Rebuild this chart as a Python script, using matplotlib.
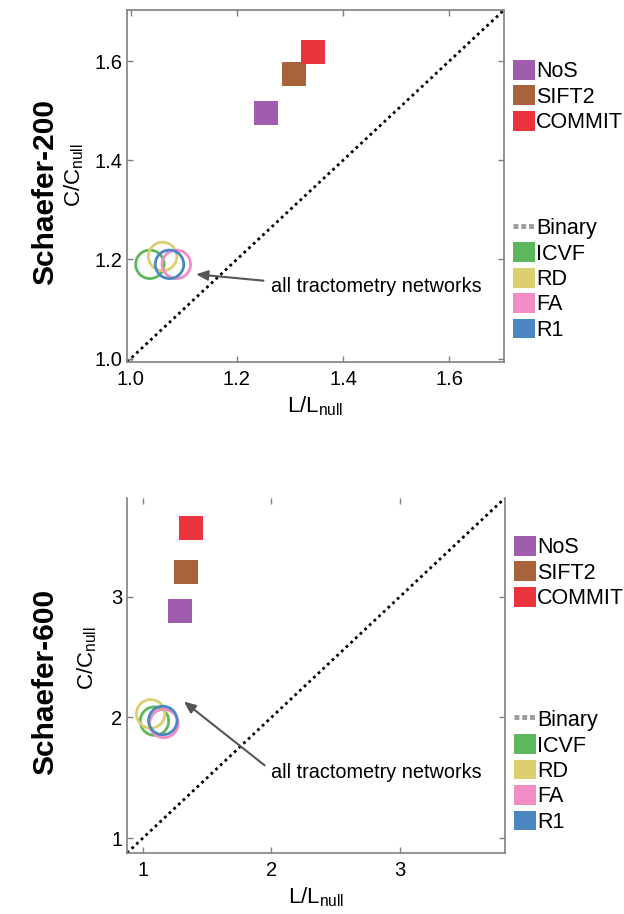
import matplotlib
matplotlib.use("Agg")
import matplotlib.pyplot as plt
from matplotlib.patches import Patch
from matplotlib.lines import Line2D

plt.rcParams['font.family'] = ['Liberation Sans', 'DejaVu Sans']
plt.rcParams['mathtext.default'] = 'regular'

# ---- data ----
square_names = ["NoS", "SIFT2", "COMMIT"]
square_colors = ["#A15DAD", "#A9633A", "#E8343A"]
circle_names = ["ICVF", "RD", "FA", "R1"]
circle_colors = ["#5DB75C", "#DCCF70", "#F38BC5", "#4A87C1"]

# Schaefer-200
s200_sq_x = [1.254, 1.308, 1.344]
s200_sq_y = [1.496, 1.574, 1.618]
s200_ci_x = [1.036, 1.060, 1.086, 1.073]
s200_ci_y = [1.190, 1.206, 1.190, 1.190]
s200_lim = (0.993, 1.703)
s200_ticks = [1.0, 1.2, 1.4, 1.6]
s200_ticklabels = ["1.0", "1.2", "1.4", "1.6"]

# Schaefer-600
s600_sq_x = [1.29, 1.334, 1.373]
s600_sq_y = [2.88, 3.21, 3.57]
s600_ci_x = [1.09, 1.06, 1.163, 1.155]
s600_ci_y = [1.97, 2.03, 1.95, 1.975]
s600_lim = (0.876, 3.82)
s600_ticks = [1, 2, 3]
s600_ticklabels = ["1", "2", "3"]

row_titles = ["Schaefer-200", "Schaefer-600"]
annot_text = "all tractometry networks"
# arrow (head, tail) and text position per panel
s200_arrow = ((1.123, 1.170), (1.250, 1.157), (1.264, 1.145))
s600_arrow = ((1.319, 2.132), (1.948, 1.603), (2.0, 1.545))

spine_col = "#808080"

fig = plt.figure(figsize=(6.24, 9.14), dpi=100)
ax1 = fig.add_axes([127/624, 1-362/914, 377/624, 352/914])
ax2 = fig.add_axes([127/624, 1-853/914, 378/624, 355/914])

panels = [
    (ax1, s200_sq_x, s200_sq_y, s200_ci_x, s200_ci_y, s200_lim, s200_ticks, s200_ticklabels, s200_arrow, True, (0.858, 0.412), (-0.11, 0.53)),
    (ax2, s600_sq_x, s600_sq_y, s600_ci_x, s600_ci_y, s600_lim, s600_ticks, s600_ticklabels, s600_arrow, False, (0.893, 0.406), (-0.075, 0.55)),
]

for ax, sqx, sqy, cix, ciy, lim, ticks, tls, arr, topspine, legy, ylab in panels:
    ax.plot(lim, lim, linestyle=(0, (1, 1.3)), color="black", lw=2.0, zorder=1)
    for x, y, c in zip(cix, ciy, circle_colors):
        ax.scatter([x], [y], s=420, marker="o", facecolors="none", edgecolors=c, linewidths=2.0, zorder=3)
    for x, y, c in zip(sqx, sqy, square_colors):
        ax.scatter([x], [y], s=300, marker="s", color=c, linewidths=0, zorder=3)
    head, tail, tpos = arr
    ax.annotate("", xy=head, xytext=tail,
                arrowprops=dict(arrowstyle="-|>,head_length=0.7,head_width=0.3", color="#555555", lw=1.5,
                                shrinkA=0, shrinkB=0))
    ax.text(tpos[0], tpos[1], annot_text, ha="left", va="center", fontsize=14.3)
    ax.set_xlim(lim)
    ax.set_ylim(lim)
    ax.set_xticks(ticks)
    ax.set_yticks(ticks)
    ax.set_xticklabels(tls)
    ax.set_yticklabels(tls)
    ax.tick_params(direction="in", length=4, width=1, color=spine_col, labelsize=14.5,
                   top=True, right=True)
    ax.tick_params(axis="x", pad=6)
    ax.tick_params(axis="y", pad=3.5)
    for side, sp in ax.spines.items():
        sp.set_color(spine_col)
        sp.set_linewidth(1.2)
    ax.spines["top"].set_visible(topspine)
    ax.set_xlabel("L/L$_{null}$", fontsize=16, labelpad=4)
    ax.set_ylabel("C/C$_{null}$", fontsize=16)
    ax.yaxis.set_label_coords(ylab[0], ylab[1])

    h1 = [Patch(facecolor=c, edgecolor="none") for c in square_colors]
    leg1 = ax.legend(h1, square_names, loc="upper left", bbox_to_anchor=(1.024, legy[0]),
                     frameon=False, borderaxespad=0, borderpad=0, fontsize=15.5,
                     handlelength=1.03, handleheight=1.03, handletextpad=0.05, labelspacing=0.15)
    ax.add_artist(leg1)
    h2 = [Line2D([0], [0], color="#9a9a9a", lw=3.5, linestyle=(0, (1, 0.6)))] + \
         [Patch(facecolor=c, edgecolor="none") for c in circle_colors]
    ax.legend(h2, ["Binary"] + circle_names, loc="upper left", bbox_to_anchor=(1.024, legy[1]),
              frameon=False, borderaxespad=0, borderpad=0, fontsize=15.5,
              handlelength=1.03, handleheight=1.03, handletextpad=0.05, labelspacing=0.15)

fig.text(45/624, 1-192/914, row_titles[0], rotation=90, ha="center", va="center",
         fontsize=21.5, fontweight="bold")
fig.text(45/624, 1-682/914, row_titles[1], rotation=90, ha="center", va="center",
         fontsize=21.5, fontweight="bold")

fig.savefig("out.png", dpi=100)
